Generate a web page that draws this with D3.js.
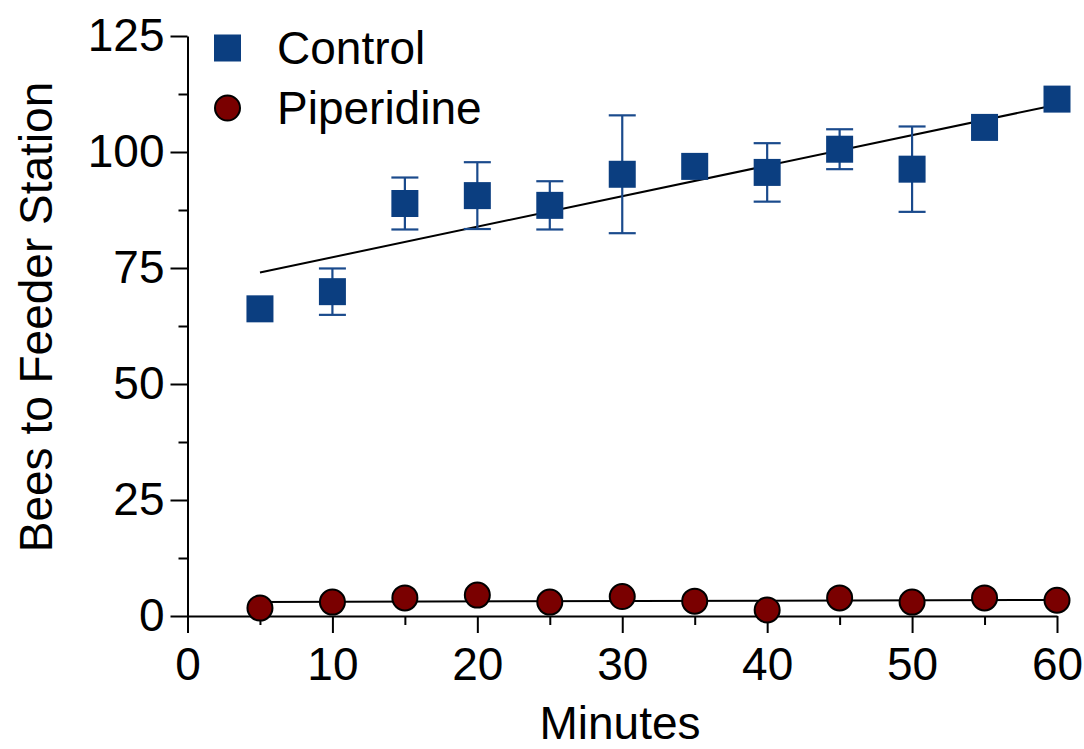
<!DOCTYPE html>
<html>
<head>
<meta charset="utf-8">
<script src="https://cdn.jsdelivr.net/npm/d3@7"></script>
<style>
  body { margin: 0; background: #fff; }
  svg { display: block; }
  text { font-family: "Liberation Sans", Arial, sans-serif; fill: #000; }
</style>
</head>
<body>
<div id="container"><svg></svg></div>
<script>
let width = 1084
let height = 749
let fontSize = 46

// data
let minutes = [5, 10, 15, 20, 25, 30, 35, 40, 45, 50, 55, 60]
let control = [66.2, 69.9, 88.9, 90.6, 88.5, 95.2, 96.9, 95.6, 100.6, 96.3, 105.3, 111.4]
let control_err = [0, 5.0, 5.6, 7.2, 5.2, 12.7, 0, 6.3, 4.3, 9.2, 0, 0]
let piperidine = [1.7, 3.0, 3.9, 4.5, 3.0, 4.2, 3.2, 1.3, 3.9, 3.0, 3.9, 3.4]
let x_ticks = [0, 10, 20, 30, 40, 50, 60]
let x_minor = [5, 15, 25, 35, 45, 55]
let y_ticks = [0, 25, 50, 75, 100, 125]
let y_minor = [12.5, 37.5, 62.5, 87.5, 112.5]

let blue = '#0b3e80'
let red = '#7a0000'

// least squares fit
function fit(xs, ys) {
    let n = xs.length
    let mx = d3.mean(xs), my = d3.mean(ys)
    let sxy = 0, sxx = 0
    for (let i = 0; i < n; i++) {
        sxy += (xs[i] - mx) * (ys[i] - my)
        sxx += (xs[i] - mx) * (xs[i] - mx)
    }
    let b = sxy / sxx
    return t => my + b * (t - mx)
}

function draw_main() {
    let svg = d3.select('#container').select('svg')
        .attr('width', width)
        .attr('height', height)

    let x = d3.scaleLinear().domain([0, 60]).range([187.5, 1057])
    let y = d3.scaleLinear().domain([0, 125]).range([616, 36])

    // y axis
    svg.append('g')
        .attr('transform', `translate(${x(0)}, 0)`)
        .call(d3.axisLeft(y).tickValues(y_minor).tickSize(9).tickSizeOuter(0).tickFormat(''))
        .call(g => g.select('.domain').remove())
    svg.append('g')
        .attr('transform', `translate(${x(0)}, 0)`)
        .call(d3.axisLeft(y).tickValues(y_ticks).tickSize(17).tickSizeOuter(0).tickPadding(6))
        .attr('font-family', '"Liberation Sans", Arial, sans-serif')
        .attr('font-size', fontSize)

    // x axis
    svg.append('g')
        .attr('transform', `translate(0, ${y(0)})`)
        .call(d3.axisBottom(x).tickValues(x_minor).tickSize(9).tickSizeOuter(0).tickFormat(''))
        .call(g => g.select('.domain').remove())
    svg.append('g')
        .attr('transform', `translate(0, ${y(0)})`)
        .call(d3.axisBottom(x).tickValues(x_ticks).tickSize(17).tickSizeOuter(0).tickPadding(14))
        .attr('font-family', '"Liberation Sans", Arial, sans-serif')
        .attr('font-size', fontSize)

    svg.selectAll('.domain, .tick line')
        .attr('stroke', '#000')
        .attr('stroke-width', 2)

    // axis titles
    svg.append('text')
        .attr('x', 620)
        .attr('y', 739)
        .attr('text-anchor', 'middle')
        .attr('font-size', fontSize)
        .text('Minutes')
    svg.append('text')
        .attr('transform', `translate(52, 317) rotate(-90)`)
        .attr('text-anchor', 'middle')
        .attr('font-size', fontSize)
        .text('Bees to Feeder Station')

    // regression lines
    let f1 = fit(minutes, control)
    let f2 = fit(minutes, piperidine)
    let x0 = d3.min(minutes), x1 = d3.max(minutes)
    ;[f1, f2].forEach(f => {
        svg.append('line')
            .attr('x1', x(x0)).attr('y1', y(f(x0)))
            .attr('x2', x(x1)).attr('y2', y(f(x1)))
            .attr('stroke', '#000')
            .attr('stroke-width', 2)
    })

    let cdata = minutes.map((m, i) => ({ m: m, v: control[i], e: control_err[i] }))
    let pdata = minutes.map((m, i) => ({ m: m, v: piperidine[i] }))
    let half = 13.5
    let cap = 13.5

    // error bars
    let eb = svg.append('g')
        .attr('stroke', '#1a4a8c')
        .attr('stroke-width', 2.2)
    let withErr = cdata.filter(d => d.e > 0)
    eb.selectAll('.v').data(withErr).enter().append('line')
        .attr('x1', d => x(d.m)).attr('x2', d => x(d.m))
        .attr('y1', d => y(d.v + d.e)).attr('y2', d => y(d.v - d.e))
    eb.selectAll('.t').data(withErr).enter().append('line')
        .attr('x1', d => x(d.m) - cap).attr('x2', d => x(d.m) + cap)
        .attr('y1', d => y(d.v + d.e)).attr('y2', d => y(d.v + d.e))
    eb.selectAll('.b').data(withErr).enter().append('line')
        .attr('x1', d => x(d.m) - cap).attr('x2', d => x(d.m) + cap)
        .attr('y1', d => y(d.v - d.e)).attr('y2', d => y(d.v - d.e))

    // control squares
    svg.append('g')
        .selectAll('rect')
        .data(cdata)
        .enter().append('rect')
        .attr('x', d => x(d.m) - half)
        .attr('y', d => y(d.v) - half)
        .attr('width', half * 2)
        .attr('height', half * 2)
        .style('fill', blue)

    // piperidine circles
    svg.append('g')
        .selectAll('circle')
        .data(pdata)
        .enter().append('circle')
        .attr('cx', d => x(d.m))
        .attr('cy', d => y(d.v))
        .attr('r', 12.5)
        .style('fill', red)
        .attr('stroke', '#000')
        .attr('stroke-width', 2)

    // legend
    let legend = svg.append('g')
    legend.append('rect')
        .attr('x', 227.5 - half).attr('y', 48 - half)
        .attr('width', half * 2).attr('height', half * 2)
        .style('fill', blue)
    legend.append('circle')
        .attr('cx', 227.5).attr('cy', 108).attr('r', 12.5)
        .style('fill', red)
        .attr('stroke', '#000')
        .attr('stroke-width', 2)
    legend.append('text')
        .attr('x', 277).attr('y', 64)
        .attr('font-size', fontSize)
        .text('Control')
    legend.append('text')
        .attr('x', 277).attr('y', 124)
        .attr('font-size', fontSize)
        .text('Piperidine')
}

draw_main()
</script>
</body>
</html>
